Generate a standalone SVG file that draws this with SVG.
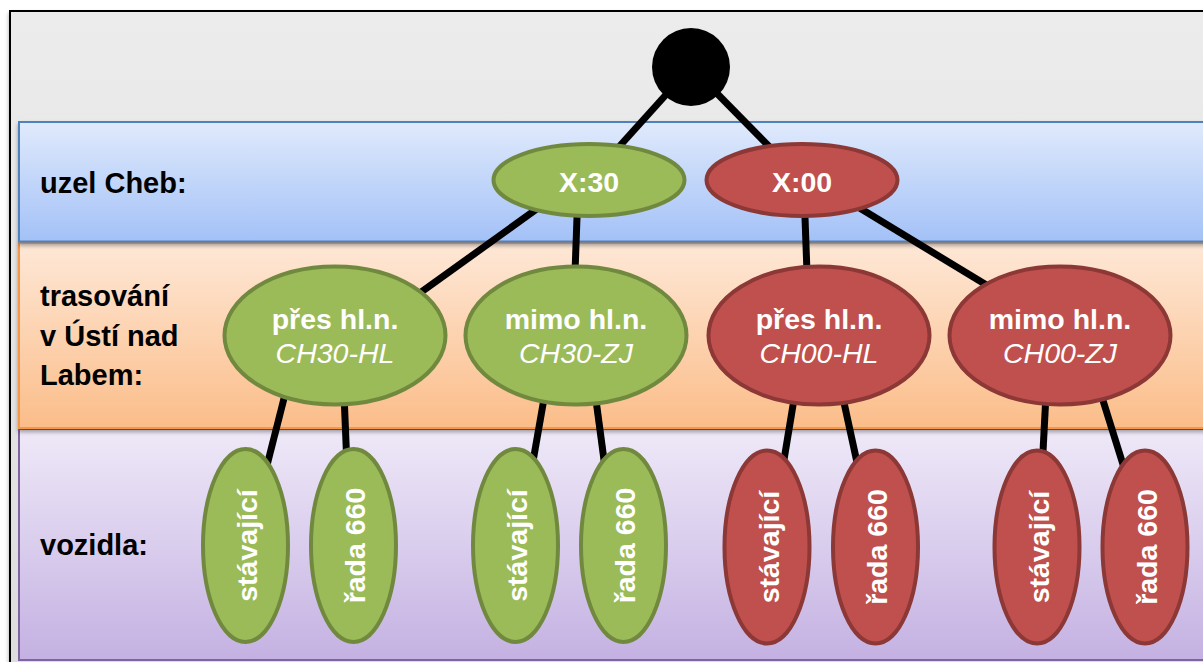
<svg xmlns="http://www.w3.org/2000/svg" width="1203" height="662" viewBox="0 0 1203 662">
  <defs>
    <linearGradient id="gPanel" x1="0" y1="0" x2="0" y2="1">
      <stop offset="0" stop-color="#ececec"/>
      <stop offset="1" stop-color="#dcdcdc"/>
    </linearGradient>
    <linearGradient id="gBlue" x1="0" y1="0" x2="0" y2="1">
      <stop offset="0" stop-color="#e0eafc"/>
      <stop offset="1" stop-color="#a3c1f7"/>
    </linearGradient>
    <linearGradient id="gOrange" x1="0" y1="0" x2="0" y2="1">
      <stop offset="0" stop-color="#fee8d7"/>
      <stop offset="1" stop-color="#fbbd89"/>
    </linearGradient>
    <linearGradient id="gPurple" x1="0" y1="0" x2="0" y2="1">
      <stop offset="0" stop-color="#efe9f8"/>
      <stop offset="1" stop-color="#c4b1e2"/>
    </linearGradient>
    <filter id="shadow" x="-5%" y="-10%" width="110%" height="130%">
      <feDropShadow dx="0" dy="3" stdDeviation="2" flood-color="#000" flood-opacity="0.35"/>
    </filter>
  </defs>
  <style>
    .band { stroke-width: 2; }
    .lbl { font-family: "Liberation Sans", Arial, sans-serif; font-weight: bold; font-size: 29px; fill: #000; }
    .edge { stroke: #000; stroke-width: 7; fill: none; }
    .green { fill: #9bbb59; stroke: #71893f; stroke-width: 4; }
    .red { fill: #c0504d; stroke: #8c3836; stroke-width: 4; }
    .t { font-family: "Liberation Sans", Arial, sans-serif; font-size: 28.5px; fill: #fff; text-anchor: middle; }
    .b { font-weight: bold; }
    .i { font-style: italic; }
  </style>

  <!-- outer panel -->
  <rect x="10" y="11" width="1210" height="670" fill="url(#gPanel)" stroke="#000" stroke-width="2" filter="url(#shadow)"/>

  <!-- level bands -->
  <g id="band-purple">
    <rect class="band" x="19" y="429" width="1200" height="231" fill="url(#gPurple)" stroke="#8064a2"/>
    <text class="lbl" x="40" y="555">vozidla:</text>
  </g>
  <g id="band-orange">
    <rect class="band" x="19" y="242.5" width="1200" height="185.5" fill="url(#gOrange)" stroke="#f79646" filter="url(#shadow)"/>
    <text class="lbl" x="40" y="306">trasování</text>
    <text class="lbl" x="40" y="346">v Ústí nad</text>
    <text class="lbl" x="40" y="385">Labem:</text>
  </g>
  <g id="band-blue">
    <rect class="band" x="19" y="122" width="1200" height="119.5" fill="url(#gBlue)" stroke="#4f81bd" filter="url(#shadow)"/>
    <text class="lbl" x="40" y="193">uzel Cheb:</text>
  </g>

  <!-- connectors -->
  <g id="connectors">
    <line class="edge" x1="691" y1="67" x2="589" y2="180"/>
    <line class="edge" x1="691" y1="67" x2="802" y2="180"/>
    <line class="edge" x1="575" y1="181.5" x2="380" y2="321.7"/>
    <line class="edge" x1="578" y1="190" x2="574" y2="300"/>
    <line class="edge" x1="804" y1="190" x2="808" y2="300"/>
    <line class="edge" x1="830" y1="190" x2="1030" y2="311.5"/>
    <line class="edge" x1="292.5" y1="365" x2="262.5" y2="483"/>
    <line class="edge" x1="343" y1="370" x2="348" y2="490"/>
    <line class="edge" x1="549" y1="370" x2="528" y2="490"/>
    <line class="edge" x1="592" y1="370" x2="608" y2="490"/>
    <line class="edge" x1="798" y1="375" x2="779" y2="490"/>
    <line class="edge" x1="838" y1="375" x2="863" y2="490"/>
    <line class="edge" x1="1047" y1="375" x2="1041" y2="490"/>
    <line class="edge" x1="1095" y1="375" x2="1131" y2="490"/>
  </g>

  <!-- root -->
  <g id="root">
    <circle cx="691" cy="67" r="39" fill="#000"/>
  </g>

  <!-- uzel Cheb -->
  <g id="x30">
    <ellipse class="green" cx="589" cy="180" rx="95.5" ry="36"/>
    <text class="t b" x="589" y="191.5">X:30</text>
  </g>
  <g id="x00">
    <ellipse class="red" cx="802" cy="180" rx="95.5" ry="36"/>
    <text class="t b" x="802" y="191.5">X:00</text>
  </g>

  <!-- trasování -->
  <g id="ch30-hl">
    <ellipse class="green" cx="335" cy="335.5" rx="110.5" ry="69"/>
    <text class="t b" x="335" y="329">přes hl.n.</text>
    <text class="t i" x="335" y="362.5">CH30-HL</text>
  </g>
  <g id="ch30-zj">
    <ellipse class="green" cx="576" cy="335.5" rx="110.5" ry="69"/>
    <text class="t b" x="576" y="329">mimo hl.n.</text>
    <text class="t i" x="576" y="362.5">CH30-ZJ</text>
  </g>
  <g id="ch00-hl">
    <ellipse class="red" cx="819" cy="335.5" rx="110.5" ry="69"/>
    <text class="t b" x="819" y="329">přes hl.n.</text>
    <text class="t i" x="819" y="362.5">CH00-HL</text>
  </g>
  <g id="ch00-zj">
    <ellipse class="red" cx="1060" cy="335.5" rx="110.5" ry="69"/>
    <text class="t b" x="1060" y="329">mimo hl.n.</text>
    <text class="t i" x="1060" y="362.5">CH00-ZJ</text>
  </g>

  <!-- vozidla -->
  <g id="ch30-hl-stav">
    <ellipse class="green" cx="245.5" cy="545.5" rx="42.5" ry="96.5"/>
    <text class="t b" transform="translate(257 545.5) rotate(-90)">stávající</text>
  </g>
  <g id="ch30-hl-660">
    <ellipse class="green" cx="353.5" cy="545.5" rx="42.5" ry="96.5"/>
    <text class="t b" transform="translate(365 545.5) rotate(-90)">řada 660</text>
  </g>
  <g id="ch30-zj-stav">
    <ellipse class="green" cx="515.5" cy="545.5" rx="42.5" ry="96.5"/>
    <text class="t b" transform="translate(527 545.5) rotate(-90)">stávající</text>
  </g>
  <g id="ch30-zj-660">
    <ellipse class="green" cx="623.5" cy="545.5" rx="42.5" ry="96.5"/>
    <text class="t b" transform="translate(635 545.5) rotate(-90)">řada 660</text>
  </g>
  <g id="ch00-hl-stav">
    <ellipse class="red" cx="767" cy="547" rx="42.5" ry="96.5"/>
    <text class="t b" transform="translate(778.5 547) rotate(-90)">stávající</text>
  </g>
  <g id="ch00-hl-660">
    <ellipse class="red" cx="875.5" cy="547" rx="42.5" ry="96.5"/>
    <text class="t b" transform="translate(887 547) rotate(-90)">řada 660</text>
  </g>
  <g id="ch00-zj-stav">
    <ellipse class="red" cx="1037" cy="547" rx="42.5" ry="96.5"/>
    <text class="t b" transform="translate(1048.5 547) rotate(-90)">stávající</text>
  </g>
  <g id="ch00-zj-660">
    <ellipse class="red" cx="1145" cy="547" rx="42.5" ry="96.5"/>
    <text class="t b" transform="translate(1156.5 547) rotate(-90)">řada 660</text>
  </g>
</svg>
